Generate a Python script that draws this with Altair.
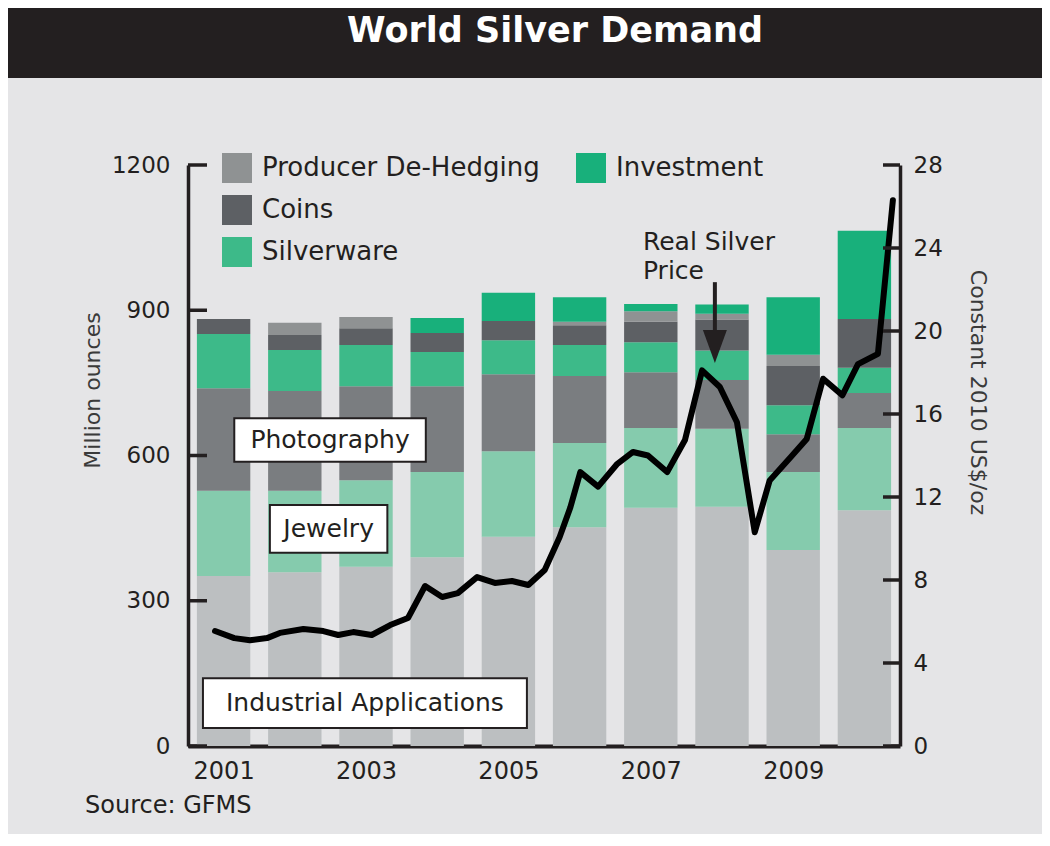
import altair as alt
import pandas as pd

# ---------------- data ----------------
years = list(range(2001, 2011))
categories = ["Industrial Applications", "Jewelry", "Photography", "Silverware",
              "Coins", "Producer De-Hedging", "Investment"]
industrial = [351, 359, 370, 390, 432, 452, 492, 494, 405, 487]
jewelry = [176, 168, 179, 176, 177, 174, 165, 161, 161, 170]
photography = [212, 206, 194, 177, 159, 138, 115, 101, 78, 72]
silverware = [112, 85, 85, 71, 70, 64, 62, 61, 60, 52]
coins = [31, 31, 35, 39, 40, 41, 42, 64, 81, 101]
dehedging = [0, 25, 23, 0, 0, 7, 22, 12, 23, 0]
investment = [0, 0, 0, 31, 58, 51, 15, 19, 119, 182]

# real silver price (constant 2010 US$/oz), time in fractional years
price_time = [2001.38, 2001.65, 2001.87, 2002.11, 2002.29, 2002.62, 2002.90, 2003.11,
              2003.32, 2003.58, 2003.84, 2004.09, 2004.33, 2004.57, 2004.79, 2005.06,
              2005.31, 2005.55, 2005.78, 2006.01, 2006.22, 2006.37, 2006.51, 2006.76,
              2007.03, 2007.25, 2007.46, 2007.73, 2007.98, 2008.22, 2008.47, 2008.71,
              2008.96, 2009.17, 2009.46, 2009.69, 2009.92, 2010.19, 2010.41, 2010.69,
              2010.90]
price_value = [5.54, 5.2, 5.1, 5.2, 5.45, 5.64, 5.54, 5.35,
               5.49, 5.35, 5.83, 6.17, 7.71, 7.18, 7.37, 8.14,
               7.86, 7.95, 7.76, 8.48, 10.07, 11.5, 13.2, 12.5,
               13.6, 14.17, 14.0, 13.2, 14.75, 18.1, 17.3, 15.6,
               10.3, 12.8, 13.9, 14.8, 17.7, 16.9, 18.4, 18.9,
               26.3]

left_ticks = [0, 300, 600, 900, 1200]
right_ticks = [0, 4, 8, 12, 16, 20, 24, 28]
labelled_years = [2001, 2003, 2005, 2007, 2009]

# legend is laid out column by column: 3 rows x 2 columns
legend_order = ["Producer De-Hedging", "Coins", "Silverware", "Investment", " "]

# annotation boxes (data coordinates)
ann_labels = ["Photography", "Jewelry", "Industrial Applications"]
ann_x0 = [2001.65, 2002.15, 2001.21]
ann_x1 = [2004.34, 2003.80, 2005.76]
ann_y0 = [587, 399, 37]
ann_y1 = [677, 498, 140]

title_text = "World Silver Demand"
source_text = "Source: GFMS"
price_label = "Real Silver\nPrice"

# ---------------- styling ----------------
DARK = "#231f20"
BG = "#e5e5e7"
FONT = "DejaVu Sans"
colors = ["#bcbfc1", "#85cbad", "#7a7d80", "#3dba89", "#5d6064", "#8f9293", "#18b07b"]
W, H = 712, 581

# ---------------- tables ----------------
series = [industrial, jewelry, photography, silverware, coins, dehedging, investment]
rows = []
for ci, (cat, vals) in enumerate(zip(categories, series)):
    for y, v in zip(years, vals):
        rows.append({"year": y, "category": cat, "value": v, "order": ci})
bars_df = pd.DataFrame(rows)

price_df = pd.DataFrame({"t": price_time, "price": price_value})
lt_df = pd.DataFrame({"v": left_ticks})
rt_df = pd.DataFrame({"v": right_ticks})
ann_df = pd.DataFrame({"label": ann_labels, "x0": ann_x0, "x1": ann_x1,
                       "y0": ann_y0, "y1": ann_y1})
ann_df["tx"] = (ann_df["x0"] + ann_df["x1"]) / 2
ann_df["ty"] = (ann_df["y0"] + ann_df["y1"]) / 2
arrow_df = pd.DataFrame({"t": [2008.40], "top": [958], "bottom": [849], "head": [825]})
plabel_df = pd.DataFrame({"t": [2007.39], "y": [1024], "label": [price_label]})
title_df = pd.DataFrame({"label": [title_text]})
source_df = pd.DataFrame({"label": [source_text]})

xs = alt.Scale(domain=[2001, 2011], nice=False, zero=False)
ly = alt.Scale(domain=[0, 1200], nice=False)
ry = alt.Scale(domain=[0, 28], nice=False)

# same x axis definition in every layer so that the shared axis merges cleanly
x_axis = alt.Axis(values=[y + 0.5 for y in labelled_years], labelExpr="floor(datum.value)",
                  ticks=False, grid=False, domainColor=DARK, domainWidth=4, orient="bottom",
                  labelFontSize=24, labelColor=DARK, labelPadding=13, title=None)
left_axis = alt.Axis(values=left_ticks, ticks=False, grid=False, orient="left", format="d",
                     domainColor=DARK, domainWidth=3.5,
                     labelFontSize=23, labelColor=DARK, labelPadding=18,
                     title="Million ounces", titleFontSize=22, titleFontWeight="normal",
                     titleColor="#3a3a3a", titleX=-96, titleY=225, titleBaseline="middle",
                     titleAngle=270)
right_axis = alt.Axis(values=right_ticks, ticks=False, grid=False, orient="right", format="d",
                      domainColor=DARK, domainWidth=3.5,
                      labelFontSize=23, labelColor=DARK, labelPadding=13,
                      title="Constant 2010 US$/oz", titleFontSize=22, titleFontWeight="normal",
                      titleColor="#3a3a3a", titleX=77, titleY=227, titleBaseline="middle",
                      titleAngle=90)


def X(field):
    return alt.X(field, scale=xs, axis=x_axis)


bars = alt.Chart(bars_df).transform_calculate(
    x0="datum.year + 0.125", x1="datum.year + 0.875"
).transform_stack(
    stack="value", groupby=["year"], as_=["v0", "v1"],
    sort=[alt.SortField("order", order="ascending")]
).mark_bar(strokeWidth=0).encode(
    x=X("x0:Q"),
    x2="x1:Q",
    y=alt.Y("v0:Q", scale=ly, axis=left_axis),
    y2="v1:Q",
    color=alt.Color("category:N",
                    scale=alt.Scale(domain=categories + [" "], range=colors + [BG]),
                    legend=alt.Legend(values=legend_order, columns=2, orient="none",
                                      legendX=34, legendY=-12, title=None,
                                      symbolType="square", symbolSize=900,
                                      symbolStrokeWidth=0, labelFontSize=26,
                                      labelColor=DARK, labelOffset=10, labelLimit=500,
                                      rowPadding=12, columnPadding=36, padding=0)),
)

boxes = alt.Chart(ann_df).mark_rect(fill="white", stroke=DARK, strokeWidth=2).encode(
    x=X("x0:Q"), x2="x1:Q",
    y=alt.Y("y0:Q", scale=ly, axis=None), y2="y1:Q")
box_text = alt.Chart(ann_df).mark_text(fontSize=25, color=DARK, baseline="middle").encode(
    x=X("tx:Q"), y=alt.Y("ty:Q", scale=ly, axis=None), text="label:N")

lticks = alt.Chart(lt_df).mark_rule(color=DARK, strokeWidth=3.5).encode(
    y=alt.Y("v:Q", scale=ly, axis=None), x=alt.value(0), x2=alt.value(19))

shaft = alt.Chart(arrow_df).mark_rule(color=DARK, strokeWidth=4).encode(
    x=X("t:Q"), y=alt.Y("top:Q", scale=ly, axis=None), y2="bottom:Q")
head = alt.Chart(arrow_df).mark_point(
    shape="M-1,-1.375L1,-1.375L0,1.375Z", filled=True, size=576, color=DARK, opacity=1
).encode(x=X("t:Q"), y=alt.Y("head:Q", scale=ly, axis=None))
plabel = alt.Chart(plabel_df).mark_text(
    fontSize=25, color=DARK, align="left", baseline="alphabetic", lineBreak="\n", lineHeight=29
).encode(x=X("t:Q"), y=alt.Y("y:Q", scale=ly, axis=None), text="label:N")

banner = alt.Chart(title_df).mark_rect(color=DARK).encode(
    x=alt.value(-180), x2=alt.value(W + 142), y=alt.value(-157), y2=alt.value(-87))
banner_text = alt.Chart(title_df).mark_text(
    color="white", fontSize=35, fontWeight="bold", baseline="middle", align="center"
).encode(x=alt.value(367), y=alt.value(-134), text="label:N")
source = alt.Chart(source_df).mark_text(
    fontSize=24, color=DARK, align="left", baseline="middle"
).encode(x=alt.value(-103), y=alt.value(641), text="label:N")

line = alt.Chart(price_df).mark_line(
    color="#000000", strokeWidth=6, strokeJoin="round", strokeCap="round"
).encode(x=X("t:Q"), y=alt.Y("price:Q", scale=ry, axis=right_axis))
rticks = alt.Chart(rt_df).mark_rule(color=DARK, strokeWidth=3.5).encode(
    y=alt.Y("v:Q", scale=ry, axis=None), x=alt.value(W - 17), x2=alt.value(W))

chart = alt.layer(
    bars, line, boxes, box_text, lticks, rticks, shaft, head, plabel,
    banner, banner_text, source
).resolve_scale(y="independent").properties(
    width=W, height=H,
    padding={"left": 180, "top": 157, "right": 142, "bottom": 88},
    autosize=alt.AutoSizeParams(type="none"),
).configure(background=BG, font=FONT).configure_view(strokeWidth=0)

chart.save("out.html", embed_options={"renderer": "svg", "actions": False})
